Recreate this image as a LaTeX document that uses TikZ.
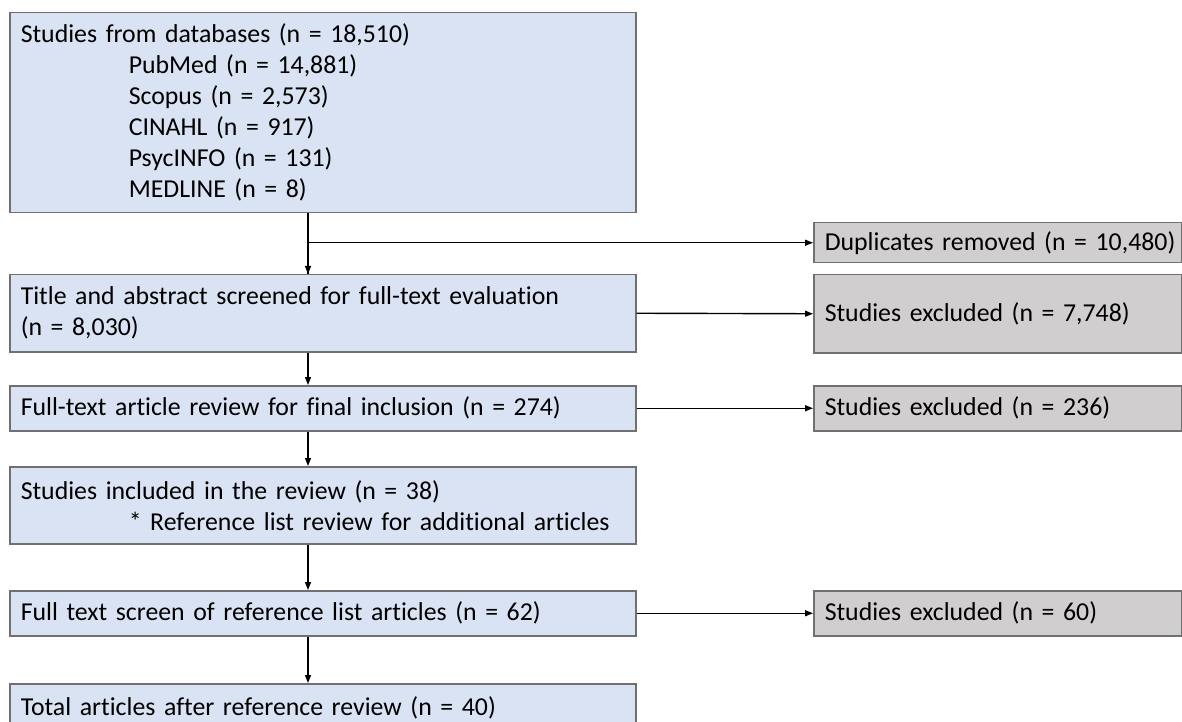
\documentclass[tikz,border=0pt]{standalone}
\usepackage{fontspec}
\setmainfont{Carlito}[Ligatures=NoCommon]
\usetikzlibrary{arrows.meta}
\definecolor{boxblue}{HTML}{DAE3F3}
\definecolor{boxgrey}{HTML}{D0CECE}
\definecolor{boxedge}{HTML}{707070}

\begin{document}
\begin{tikzpicture}[x=1pt,y=1pt,line cap=butt,line join=miter,
                    font=\fontsize{25.8pt}{31pt}\selectfont,
    bluebox/.style={draw=boxedge,line width=1.5pt,fill=boxblue,anchor=north west,
                    inner xsep=11pt,inner ysep=0pt,text width=604pt,align=left},
    greybox/.style={draw=boxedge,line width=1.5pt,fill=boxgrey,anchor=north west,
                    inner xsep=5pt,inner ysep=0pt,text width=358pt,align=left,
                    execute at begin node={\hspace*{6pt}}},
    flow/.style={line width=1.4pt,-{Triangle[length=8pt,width=6pt]}}]
  \path[use as bounding box] (0,0) rectangle (1182,721);   % canvas 1182 x 721 px, y up
  % ---- left column (px x 9..635) ----
  \node[bluebox,minimum height=200pt] (db) at (9,709)
    {Studies from databases (n = 18,510)\\
     \hspace*{108pt}PubMed (n = 14,881)\\
     \hspace*{108pt}Scopus (n = 2,573)\\
     \hspace*{108pt}CINAHL (n = 917)\\
     \hspace*{108pt}PsycINFO (n = 131)\\
     \hspace*{108pt}MEDLINE (n = 8)};                      % px y 12..212
  \node[bluebox,minimum height=77pt] (title) at (9,447)
    {Title and abstract screened for full-text evaluation\\(n = 8,030)};   % px y 274..351
  \node[bluebox,minimum height=45pt] (full) at (9,336)
    {Full-text article review for final inclusion (n = 274)};              % px y 385..430
  \node[bluebox,minimum height=77pt] (incl) at (9,255)
    {Studies included in the review (n = 38)\\
     \hspace*{108pt}* Reference list review for additional articles};      % px y 466..543
  \node[bluebox,minimum height=45pt] (screen) at (9,131)
    {Full text screen of reference list articles (n = 62)};                % px y 590..635
  \node[bluebox,minimum height=48pt] (total) at (9,38)
    {Total articles after reference review (n = 40)};                      % px y 683..(cut)
  % ---- right column (px x 813..1181) ----
  \node[greybox,minimum height=40pt] (dup) at (813,499)
    {Duplicates removed (n = 10,480)};                     % px y 222..262
  \node[greybox,minimum height=78pt] (excla) at (813,447)
    {Studies excluded (n = 7,748)};                        % px y 274..352
  \node[greybox,minimum height=45pt] (exclb) at (813,336)
    {Studies excluded (n = 236)};                          % px y 385..430
  \node[greybox,minimum height=45pt] (exclc) at (813,131)
    {Studies excluded (n = 60)};                           % px y 590..635
  % ---- spine of the down arrows (px x 308) ----
  \coordinate (spine) at (308,0);
  \draw[line width=1.4pt] (db.south -| spine) -- (title.north -| spine);
  \draw[flow] (spine |- dup.west) -- (dup.west);
  \draw[flow] (spine |- dup.west) -- (title.north -| spine);
  \draw[flow] (title.south -| spine) -- (full.north -| spine);
  \draw[flow] (full.south -| spine) -- (incl.north -| spine);
  \draw[flow] (incl.south -| spine) -- (screen.north -| spine);
  \draw[flow] (screen.south -| spine) -- (total.north -| spine);
  % ---- exclusions ----
  \draw[flow] (title.east) -- (excla.west);
  \draw[flow] (full.east) -- (exclb.west);
  \draw[flow] (screen.east) -- (exclc.west);
\end{tikzpicture}
\end{document}
